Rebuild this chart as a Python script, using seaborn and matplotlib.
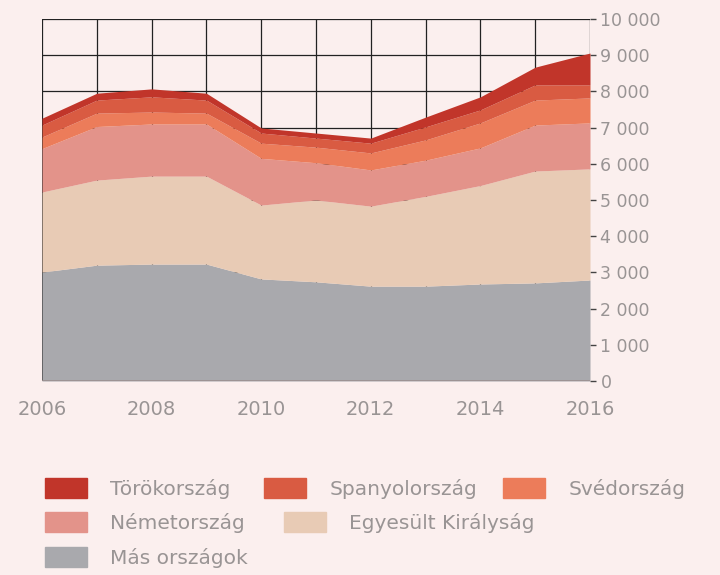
import matplotlib
matplotlib.use('Agg')
import matplotlib.pyplot as plt
import matplotlib.patches as mpatches
import seaborn as sns

# adatok
years = [2006, 2007, 2008, 2009, 2010, 2011, 2012, 2013, 2014, 2015, 2016]
mas = [3010, 3200, 3230, 3230, 2820, 2740, 2620, 2620, 2680, 2710, 2790]
egyesult = [2210, 2350, 2430, 2430, 2040, 2260, 2210, 2480, 2720, 3090, 3070]
nemet = [1200, 1480, 1440, 1440, 1290, 1030, 1000, 1000, 1040, 1270, 1270]
sved = [320, 370, 330, 300, 420, 430, 470, 560, 690, 690, 690]
spanyol = [330, 360, 420, 360, 280, 250, 270, 360, 360, 420, 360]
torok = [190, 190, 220, 190, 140, 140, 140, 270, 360, 490, 880]

names = ['Más országok', 'Egyesült Királyság', 'Németország',
         'Svédország', 'Spanyolország', 'Törökország']
colors = ['#a9a9ad', '#e8cbb5', '#e3938a', '#ec7c5a', '#d95b42', '#c1352a']
y_ticks = list(range(0, 10001, 1000))
x_ticks = [2006, 2008, 2010, 2012, 2014, 2016]

bg = '#fbefee'
txt = '#999494'

sns.set_style('white')
plt.rcParams['font.family'] = ['DejaVu Sans']

fig = plt.figure(figsize=(7.2, 5.75), dpi=100, facecolor=bg)
ax = fig.add_axes([42 / 720, 1 - 381 / 575, (590 - 42) / 720, (381 - 19) / 575])
ax.set_facecolor(bg)

# rács a területek mögött
for yr in years:
    ax.axvline(yr, color='#222222', lw=0.9, zorder=0)
for v in y_ticks:
    ax.axhline(v, color='#222222', lw=0.9, zorder=0)

ax.stackplot(years, mas, egyesult, nemet, sved, spanyol, torok,
             colors=colors, zorder=2, lw=0)

ax.set_xlim(2006, 2016)
ax.set_ylim(0, 10000)
ax.axhline(0, color='#9a8f8f', lw=1.2, zorder=3)

ax.yaxis.tick_right()
ax.set_yticks(y_ticks)
ax.set_yticklabels([f'{v:,}'.replace(',', ' ') for v in y_ticks])
ax.set_xticks(x_ticks)
ax.set_xticklabels([str(x) for x in x_ticks])
ax.tick_params(axis='y', length=4.5, width=1, color='#444444', pad=3,
               labelsize=12.5, labelcolor=txt)
ax.tick_params(axis='x', length=0, pad=14, labelsize=14, labelcolor=txt)
for s in ax.spines.values():
    s.set_visible(False)

# jelmagyarázat soronként, mint az eredetin
legend_items = [
    ('Törökország', colors[5], 45, 478),
    ('Spanyolország', colors[4], 264, 478),
    ('Svédország', colors[3], 503, 478),
    ('Németország', colors[2], 45, 512),
    ('Egyesült Királyság', colors[1], 284, 512),
    ('Más országok', colors[0], 45, 547),
]
for name, col, px, py in legend_items:
    h = mpatches.Patch(color=col, label=name)
    fig.legend(handles=[h], loc='upper left',
               bbox_to_anchor=(px / 720, 1 - py / 575),
               frameon=False, borderpad=0, borderaxespad=0,
               handlelength=2.1, handleheight=1.15, handletextpad=1.15,
               prop={'size': 14.5}, labelcolor=txt)

fig.savefig('out.png', dpi=100, facecolor=bg)
